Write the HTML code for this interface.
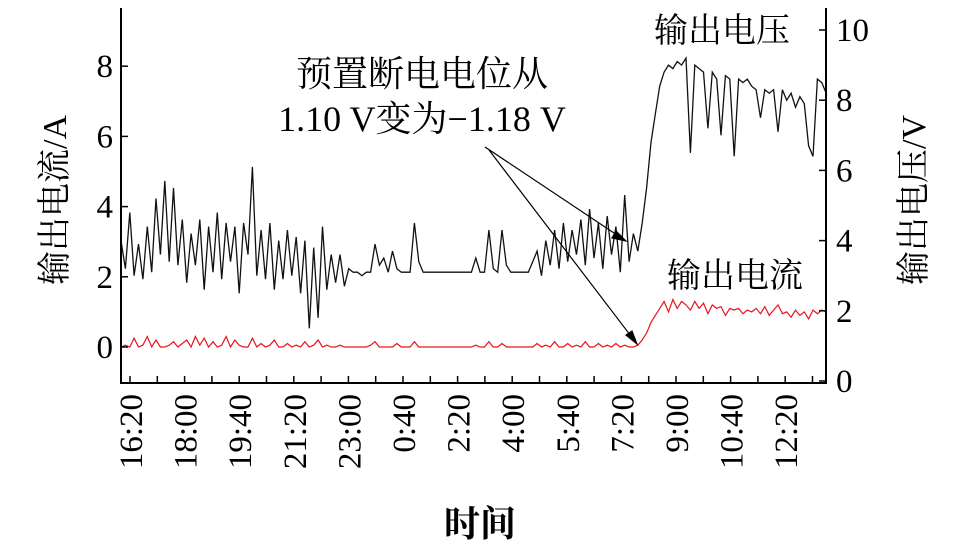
<!DOCTYPE html>
<html><head><meta charset="utf-8"><style>
body{margin:0;background:#fff;}
svg{display:block;font-family:"Liberation Serif","Noto Serif CJK SC","Noto Sans CJK SC",serif;}
</style></head><body>
<svg id="chart" width="967" height="548" viewBox="0 0 967 548" xmlns="http://www.w3.org/2000/svg">
<g id="marks"></g>
<g id="axes"></g>
<text transform="translate(66,200) rotate(-90)" text-anchor="middle" font-size="34">输出电流/A</text>
<text transform="translate(925,200) rotate(-90)" text-anchor="middle" font-size="34">输出电压/V</text>
<text x="480" y="536" text-anchor="middle" font-size="36" font-weight="bold">时间</text>
<text x="422" y="86" text-anchor="middle" font-size="36">预置断电电位从</text>
<text x="422" y="131" text-anchor="middle" font-size="36">1.10 V变为−1.18 V</text>
<text x="722" y="42" text-anchor="middle" font-size="34">输出电压</text>
<text x="735" y="287" text-anchor="middle" font-size="34">输出电流</text>
<g stroke="#000" stroke-width="1.2">
<line x1="485" y1="147" x2="626" y2="241"/><polygon points="626,241 616,231 612,238" fill="#000"/>
<line x1="489" y1="150" x2="637" y2="344"/><polygon points="637,344 626,335 632,331" fill="#000"/>
</g>
</svg>
<script>
const xTickLabels=["16:20","18:00","19:40","21:20","23:00","0:40","2:20","4:00","5:40","7:20","9:00","10:40","12:20"];
const leftTicks=[0,2,4,6,8];
const rightTicks=[0,2,4,6,8,10];
const voltage=[4.0,3.2,4.8,3.0,3.9,2.9,4.4,3.1,5.2,3.6,5.7,3.4,5.5,3.3,4.6,2.8,4.2,3.3,4.6,2.6,4.4,3.1,4.8,2.9,4.5,3.4,4.4,2.5,4.5,3.6,6.1,3.0,4.3,2.9,4.5,2.6,4.0,2.9,4.3,3.0,4.1,2.5,4.0,1.5,3.8,1.8,4.4,2.6,3.6,2.8,3.6,2.7,3.2,
3.1,3.1,3.0,3.1,3.1,3.9,3.3,3.5,3.1,3.7,3.2,3.1,3.1,3.1,4.5,3.4,3.1,3.1,3.1,3.1,3.1,3.1,3.1,3.1,3.1,3.1,3.1,3.1,3.5,3.1,3.1,4.3,3.2,3.1,4.3,3.3,3.1,3.1,3.1,3.1,3.1,
3.4,3.7,3.0,4.0,3.3,4.3,3.2,4.5,3.4,4.3,3.6,4.6,3.3,4.9,3.5,4.5,3.2,4.7,3.6,4.4,3.1,5.3,3.4,4.2,3.7,
4.5,5.5,6.8,7.6,8.4,
8.8,9.0,8.9,9.1,9.0,9.2,6.5,9.0,8.9,8.8,7.2,8.8,8.6,7.0,8.7,8.6,6.4,8.6,8.5,8.6,8.4,8.3,7.5,8.3,8.2,8.3,7.1,8.3,8.0,8.2,7.8,8.1,7.9,6.7,6.4,8.6,8.5,8.2];
const current=[0,0.05,0,0.25,0,0.05,0.3,0,0.2,0,0,0.05,0.15,0,0.1,0.2,0,0.3,0.05,0.25,0,0.15,0,0.05,0.3,0,0.2,0.05,0,0,0.25,0,0.1,0,0.05,0.2,0,0,0.1,0,0.05,0,0.15,0,0.05,0.2,0,0.05,0,0,0.05,0,0,
0,0,0,0,0.05,0.15,0,0,0,0,0.1,0,0,0,0.15,0,0,0,0,0,0,0,0,0,0,0,0,0,0.05,0,0,0.15,0,0,0.1,0,0,0,0,0,0,
0,0.1,0,0.05,0,0.15,0,0,0.1,0,0.05,0,0.15,0,0,0.1,0,0.05,0,0.1,0,0.05,0,0,0.05,
0.2,0.4,0.7,0.9,1.1,
1.3,1.0,1.35,1.1,1.3,1.2,1.05,1.3,1.1,1.25,0.95,1.2,1.1,1.15,0.9,1.1,1.05,1.1,0.95,1.05,1.0,1.1,0.95,1.15,0.9,1.05,1.2,0.95,1.0,0.85,1.05,0.9,1.0,0.8,1.05,0.95,1.05,1.0];
const X0=121,X1=826,Y0=8,YB=383;
const tStart=-16.5,tEnd=1275;
const x=t=>130+(t)*0.546;
const yL=v=>347-v*35.1;
const yR=v=>381-v*35.1;
const NS="http://www.w3.org/2000/svg";
function mk(tag,attrs,parent){const e=document.createElementNS(NS,tag);for(const k in attrs)e.setAttribute(k,attrs[k]);parent.appendChild(e);return e;}
const marks=document.getElementById('marks'),axes=document.getElementById('axes');
function series(vals,yf){const n=vals.length;return vals.map((v,i)=>{const t=tStart+i*(tEnd-tStart)/(n-1);return x(t).toFixed(1)+','+yf(v).toFixed(1);}).join(' ');}
const pv=mk('polyline',{points:series(voltage,yR),fill:'none',stroke:'#111',"stroke-width":1.3},marks);


const pc=mk('polyline',{points:series(current,yL),fill:'none',stroke:'#e8141c',"stroke-width":1.2},marks);


const frame=mk('path',{d:`M${X0},${Y0}V${YB}H${X1}V${Y0}`,fill:'none',stroke:'#000',"stroke-width":2},axes);


for(let j=0;j<=25;j++){const tx=x(j*50);if(tx>X1)break;mk('line',{x1:tx,x2:tx,y1:YB,y2:YB-7,stroke:'#000',"stroke-width":1.5},axes);}
xTickLabels.forEach((s,k)=>{const tx=x(k*100);const t=mk('text',{transform:`translate(${tx+12},394) rotate(-90)`,"text-anchor":"end","font-size":33},axes);t.textContent=s;

});
leftTicks.forEach(v=>{const ty=yL(v);mk('line',{x1:X0,x2:X0+7,y1:ty,y2:ty,stroke:'#000',"stroke-width":1.5},axes);const t=mk('text',{x:X0-8,y:ty+11,"text-anchor":"end","font-size":33},axes);t.textContent=v;

});
rightTicks.forEach(v=>{const ty=yR(v);mk('line',{x1:X1,x2:X1-7,y1:ty,y2:ty,stroke:'#000',"stroke-width":1.5},axes);const t=mk('text',{x:X1+10,y:ty+11,"text-anchor":"start","font-size":33},axes);t.textContent=v;

});
</script>
</body></html>
